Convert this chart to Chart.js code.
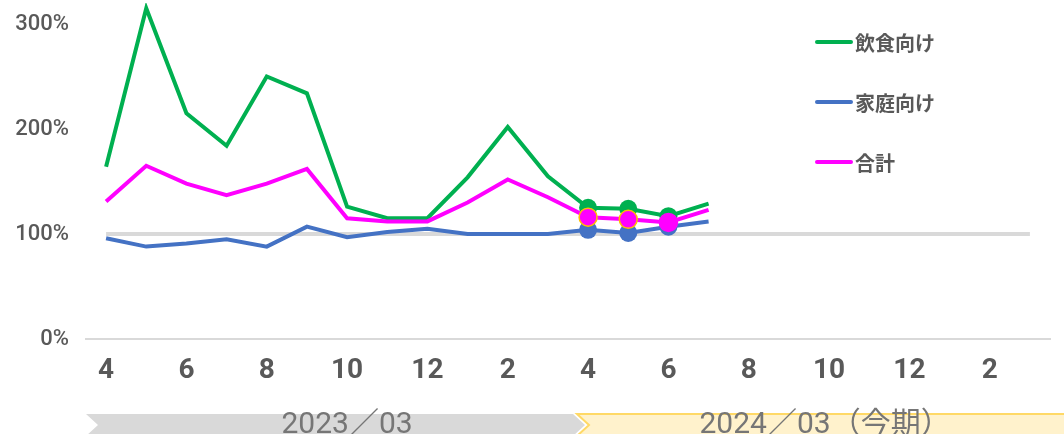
<!DOCTYPE html>
<html>
<head>
<meta charset="utf-8">
<script src="https://cdn.jsdelivr.net/npm/chart.js@4"></script>
<style>
  html, body { margin: 0; padding: 0; background: #fff; }
  #wrap { position: relative; width: 1064px; height: 434px; overflow: hidden; }
  #legend { position: absolute; left: 815px; top: 29px; font-family: 'Noto Sans CJK JP', sans-serif; font-weight: bold; font-size: 20px; color: #595959; }
  #legend .item { display: flex; align-items: center; height: 26px; margin-bottom: 34px; }
  #legend .line { width: 38px; height: 4px; border-radius: 2px; margin-right: 2px; }
</style>
</head>
<body>
<div id="wrap">
  <canvas id="myChart" width="1064" height="434"></canvas>
  <div id="legend"></div>
</div>
<script>
// 月ラベル（2022/4 〜 2024/3）
const months = ['4','5','6','7','8','9','10','11','12','1','2','3',
                '4','5','6','7','8','9','10','11','12','1','2','3'];

// 前年比（%）
const inshoku = [164, 315, 215, 184, 250, 234, 126, 115, 115, 154, 202, 155,
                 125, 124, 117, 129];
const katei   = [96, 88, 91, 95, 88, 107, 97, 102, 105, 100, 100, 100,
                 104, 101, 107, 112];
const goukei  = [131, 165, 148, 137, 148, 162, 115, 112, 112, 130, 152, 135,
                 116, 114, 111, 123];
const baseLine = months.map(() => 100);

// 期の帯
const periodLabels = ['2023／03', '2024／03（今期）'];
const periodStart = [0, 12];
const periodTextAt = [6, 17.9];
const periodFill = ['#d9d9d9', '#fff2cc'];
const periodBorder = [null, '#ffd966'];

const yTicks = [0, 100, 200, 300];

// 直近3か月だけマーカーを表示
const markIdx = [12, 13, 14];
const radii = months.map((m, i) => markIdx.includes(i) ? 9 : 0);
// 合計のマーカー枠（4月・5月だけオレンジ）
const goukeiMarkBorder = months.map((m, i) => (i === 12 || i === 13) ? '#ffc000' : '#ff00ff');

// 下の帯（シェブロン）を描くプラグイン
const periodBands = {
    id: 'periodBands',
    afterDraw(chart) {
        const ctx = chart.ctx;
        const x = chart.scales.x;
        const step = x.getPixelForValue(1) - x.getPixelForValue(0);
        const top = 414, mid = 425, bot = 436, tip = 12;
        periodLabels.forEach((label, i) => {
            let l = x.getPixelForValue(periodStart[i]) - step / 2;
            if (i > 0) l += 9;
            const r = i + 1 < periodStart.length
                ? x.getPixelForValue(periodStart[i + 1]) - step / 2 + 5
                : chart.width + 40;
            ctx.save();
            ctx.beginPath();
            ctx.moveTo(l, top);
            ctx.lineTo(r, top);
            ctx.lineTo(r + tip, mid);
            ctx.lineTo(r, bot);
            ctx.lineTo(l, bot);
            ctx.lineTo(l + tip, mid);
            ctx.closePath();
            ctx.fillStyle = periodFill[i];
            ctx.fill();
            if (periodBorder[i]) {
                ctx.strokeStyle = periodBorder[i];
                ctx.lineWidth = 2;
                ctx.stroke();
            }
            ctx.fillStyle = '#767676';
            ctx.font = '30px Roboto, "Noto Sans CJK JP", sans-serif';
            ctx.textAlign = 'center';
            ctx.textBaseline = 'alphabetic';
            ctx.fillText(label, x.getPixelForValue(periodTextAt[i]), 433);
            ctx.restore();
        });
    }
};

const ctx = document.getElementById('myChart').getContext('2d');
const chart = new Chart(ctx, {
    type: 'line',
    data: {
        labels: months,
        datasets: [
            {
                label: '飲食向け',
                data: inshoku,
                borderColor: '#00b050',
                backgroundColor: '#00b050',
                borderWidth: 4,
                pointRadius: radii,
                pointBorderWidth: 0,
                order: 1
            },
            {
                label: '家庭向け',
                data: katei,
                borderColor: '#4472c4',
                backgroundColor: '#4472c4',
                borderWidth: 4,
                pointRadius: radii,
                pointBorderWidth: 0,
                order: 2
            },
            {
                label: '合計',
                data: goukei,
                borderColor: '#ff00ff',
                backgroundColor: '#ff00ff',
                borderWidth: 4,
                pointRadius: radii,
                pointBorderColor: goukeiMarkBorder,
                pointBorderWidth: 1.5,
                order: 0
            },
            {
                label: 'base',
                data: baseLine,
                borderColor: '#d9d9d9',
                borderWidth: 4,
                pointRadius: 0,
                order: 3
            }
        ]
    },
    options: {
        responsive: false,
        animation: false,
        layout: { padding: { top: 3, right: 14, left: 0, bottom: 0 } },
        scales: {
            x: {
                offset: true,
                grid: { display: false, drawTicks: false },
                border: { display: true, color: '#d9d9d9', width: 2 },
                ticks: {
                    autoSkip: false,
                    maxRotation: 0,
                    padding: 15,
                    color: '#595959',
                    font: { family: 'Roboto', size: 28, weight: 'bold' },
                    callback: (v, i) => (i % 2 === 0 ? months[i] : '')
                },
                afterFit(scale) { scale.height = 95; }
            },
            y: {
                min: 0,
                max: 320,
                grid: { display: false, drawTicks: false },
                border: { display: false },
                afterBuildTicks(scale) { scale.ticks = yTicks.map(v => ({ value: v })); },
                ticks: {
                    padding: 17,
                    color: '#595959',
                    font: { family: 'Roboto', size: 22, weight: '500' },
                    callback: v => v + '%'
                },
                afterFit(scale) {
                    scale.width = 86;
                    scale.paddingTop = 0;
                    scale.paddingBottom = 0;
                }
            }
        },
        plugins: {
            legend: { display: false },
            tooltip: { enabled: false }
        }
    },
    plugins: [periodBands]
});

// 凡例（HTML）
const legendOrder = [0, 1, 2];
const legendEl = document.getElementById('legend');
legendOrder.forEach(i => {
    const ds = chart.data.datasets[i];
    const item = document.createElement('div');
    item.className = 'item';
    const line = document.createElement('span');
    line.className = 'line';
    line.style.background = ds.borderColor;
    const text = document.createElement('span');
    text.textContent = ds.label;
    item.appendChild(line);
    item.appendChild(text);
    legendEl.appendChild(item);
});
</script>
</body>
</html>
